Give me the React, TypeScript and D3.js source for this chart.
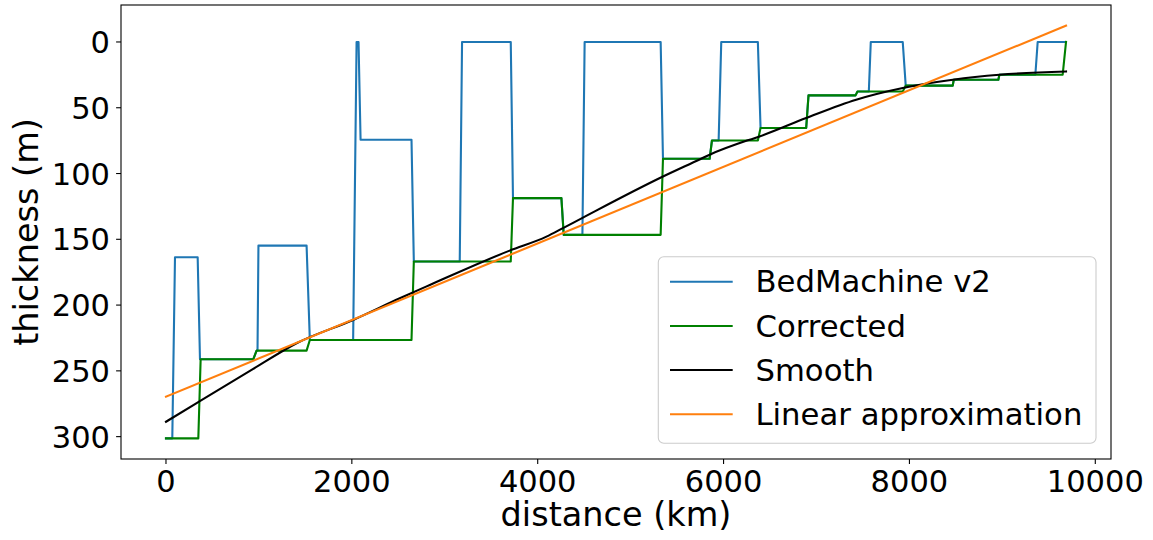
import React from 'react';
import * as d3 from 'd3';

const bedDist = [0, 68, 97, 341, 366, 939, 975, 985, 995, 1513, 1548, 2014, 2051, 2072, 2094, 2642, 2667, 3161, 3186, 3710, 3734, 4255, 4280, 4481, 4505, 5323, 5348, 5850, 5875, 5947, 5975, 6369, 6398, 6889, 6914, 7420, 7441, 7563, 7584, 7928, 7960, 8466, 8477, 8957, 8968, 9355, 9380, 9678];
const bedThick = [301.3, 301.3, 163.6, 163.6, 241.2, 241.2, 234.6, 234.6, 154.8, 154.8, 226.5, 226.5, 0, 0, 74.3, 74.3, 166.9, 166.9, 0, 0, 118.7, 118.7, 146.6, 146.6, 0, 0, 88.8, 88.8, 74.9, 74.9, 0, 0, 65.4, 65.4, 40.6, 40.6, 37.6, 37.6, 0, 0, 33.2, 33.2, 28.7, 28.7, 24.9, 24.9, 0, 0];

const corrDist = [0, 348, 373, 939, 975, 1513, 1548, 2642, 2667, 3710, 3734, 4255, 4280, 5323, 5348, 5850, 5875, 6369, 6398, 6889, 6914, 7420, 7441, 7928, 7960, 8466, 8477, 8957, 8968, 9649, 9685];
const corrThick = [301.3, 301.3, 241.2, 241.2, 234.6, 234.6, 226.5, 226.5, 166.9, 166.9, 118.7, 118.7, 146.6, 146.6, 88.8, 88.8, 74.9, 74.9, 65.4, 65.4, 40.6, 40.6, 37.6, 37.6, 33.2, 33.2, 28.7, 28.7, 24.9, 24.9, 0];

const smoothDist = [0, 330, 939, 1405, 2014, 2516, 2839, 3698, 4094, 4272, 4487, 5348, 5742, 5850, 6280, 6387, 6889, 7427, 7928, 8466, 8968, 9685];
const smoothThick = [288.7, 274.5, 248.5, 229, 211.3, 194.8, 184.7, 158.6, 148, 141.5, 133.5, 102.3, 89.3, 85.7, 74.3, 71.8, 57.8, 43.9, 35, 28.7, 24.9, 22.4];

const linDist = [0, 9685];
const linThick = [269.6, -12.4];

const xTicks = [0, 2000, 4000, 6000, 8000, 10000];
const yTicks = [0, 50, 100, 150, 200, 250, 300];

const seriesNames = ['BedMachine v2', 'Corrected', 'Smooth', 'Linear approximation'];
const seriesColors = ['#1f77b4', '#008000', '#000000', '#ff7f0e'];

const W = 1153;
const H = 540;
const left = 121;
const right = 1111;
const top = 5;
const bottom = 459;
const FONT = "'DejaVu Sans', sans-serif";
const TICK_FS = 30.5;
const LEG_FS = 30.7;
const LAB_FS = 33.5;

export default function App() {
  const x = d3.scaleLinear().domain([-484, 10169]).range([left, right]);
  const y = d3.scaleLinear().domain([-28.1, 317]).range([top, bottom]);

  const mk = (xs: number[], ys: number[], curve?: any) => {
    const g = d3
      .line<number>()
      .x((_, i) => x(xs[i]))
      .y((d) => y(d));
    if (curve) g.curve(curve);
    return g(ys) || '';
  };

  const paths = [
    mk(bedDist, bedThick),
    mk(corrDist, corrThick),
    mk(smoothDist, smoothThick, d3.curveMonotoneX),
    mk(linDist, linThick),
  ];

  const legRows = [281.7, 326, 370, 414.3];

  return (
    <svg
      width={W}
      height={H}
      style={{ position: 'absolute', left: 0, top: 0, background: '#fff' }}
      fontFamily={FONT}
    >
      <rect x={0} y={0} width={W} height={H} fill="#fff" />
      <defs>
        <clipPath id="plotclip">
          <rect x={left} y={top} width={right - left} height={bottom - top} />
        </clipPath>
      </defs>
      <g clipPath="url(#plotclip)">
        {paths.map((p, i) => (
          <path
            key={i}
            d={p}
            fill="none"
            stroke={seriesColors[i]}
            strokeWidth={2.1}
            strokeLinejoin="round"
            strokeLinecap="square"
          />
        ))}
      </g>
      <rect
        x={left}
        y={top}
        width={right - left}
        height={bottom - top}
        fill="none"
        stroke="#000"
        strokeWidth={1.1}
      />
      {xTicks.map((t) => (
        <g key={'x' + t}>
          <line x1={x(t)} x2={x(t)} y1={bottom} y2={bottom + 4.9} stroke="#000" strokeWidth={1.1} />
          <text x={x(t)} y={491.5} fontSize={TICK_FS} textAnchor="middle" fill="#000">
            {t}
          </text>
        </g>
      ))}
      {yTicks.map((t) => (
        <g key={'y' + t}>
          <line x1={left - 4.9} x2={left} y1={y(t)} y2={y(t)} stroke="#000" strokeWidth={1.1} />
          <text x={110} y={y(t) + 11} fontSize={TICK_FS} textAnchor="end" fill="#000">
            {t}
          </text>
        </g>
      ))}
      <text x={(left + right) / 2} y={526} fontSize={LAB_FS} textAnchor="middle" fill="#000">
        distance (km)
      </text>
      <text
        transform={`translate(37.7,${(top + bottom) / 2}) rotate(-90)`}
        fontSize={LAB_FS}
        textAnchor="middle"
        fill="#000"
      >
        thickness (m)
      </text>
      <rect
        x={658.3}
        y={256.7}
        width={1096 - 658.3}
        height={443.3 - 256.7}
        rx={5.5}
        ry={5.5}
        fill="#fff"
        fillOpacity={0.8}
        stroke="#cccccc"
        strokeWidth={1.1}
      />
      {seriesNames.map((n, i) => (
        <g key={n}>
          <line x1={670} x2={732.7} y1={legRows[i]} y2={legRows[i]} stroke={seriesColors[i]} strokeWidth={2.1} />
          <text x={755.5} y={legRows[i] + 10.5} fontSize={LEG_FS} fill="#000">
            {n}
          </text>
        </g>
      ))}
    </svg>
  );
}
